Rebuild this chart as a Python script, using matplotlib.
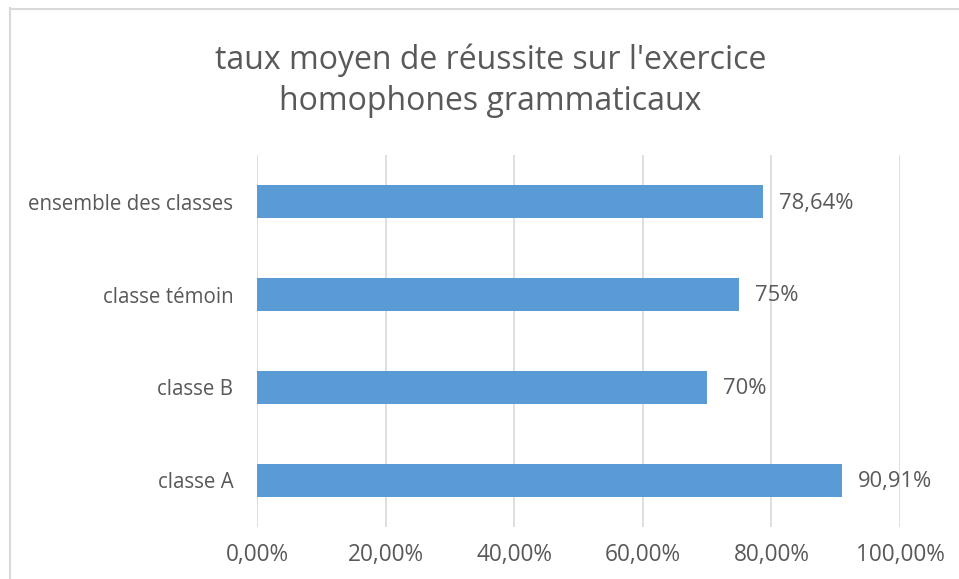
import matplotlib.pyplot as plt
from matplotlib.ticker import FuncFormatter, MultipleLocator
from matplotlib.lines import Line2D

categories = ["classe A", "classe B", "classe témoin", "ensemble des classes"]
values = [0.9091, 0.70, 0.75, 0.7864]
title = "taux moyen de réussite sur l'exercice\nhomophones grammaticaux"

BAR = "#5B9BD5"
TXT = "#595959"
GRID = "#D9D9D9"

plt.rcParams['font.family'] = ['Open Sans', 'DejaVu Sans']


def pct_label(v):
    s = "{:.2f}".format(v * 100).rstrip("0").rstrip(".")
    return s.replace(".", ",") + "%"


fig = plt.figure(figsize=(9.59, 5.79), dpi=100)
ax = fig.add_axes([0.268, 0.09, 0.6705, 0.642])

y = range(len(categories))
bars = ax.barh(y, values, height=0.35, color=BAR, zorder=3)
ax.set_ylim(-0.5, len(categories) - 0.5)
ax.set_xlim(0, 1.0)
ax.set_yticks(list(y))
ax.set_yticklabels(categories, fontsize=14.8)
ax.xaxis.set_major_locator(MultipleLocator(0.2))
ax.xaxis.set_major_formatter(FuncFormatter(lambda v, p: "{:.2f}%".format(v * 100).replace(".", ",")))

ax.grid(axis='x', color=GRID, linewidth=1.2, zorder=0)
for s in ax.spines.values():
    s.set_visible(False)
ax.tick_params(length=0, colors=TXT)
ax.tick_params(axis='x', labelsize=16.3, pad=11.5)
ax.tick_params(axis='y', pad=17)

for b, v in zip(bars, values):
    ax.annotate(pct_label(v), (b.get_width(), b.get_y() + b.get_height() / 2),
                xytext=(11.5, -1), textcoords='offset points', va='center', ha='left',
                color=TXT, fontsize=15.8)

fig.text(0.5115, 0.8605, title, ha='center', va='center', color=TXT, fontsize=23,
         linespacing=1.3)

# chart border (cropped on right and bottom)
fig.add_artist(Line2D([9.5 / 959, 9.5 / 959], [0, 1 - 8 / 579], color=GRID, linewidth=1.5,
                      transform=fig.transFigure))
fig.add_artist(Line2D([9.5 / 959, 1], [1 - 8.5 / 579, 1 - 8.5 / 579], color=GRID, linewidth=1.5,
                      transform=fig.transFigure))

fig.savefig("out.png", dpi=100)
